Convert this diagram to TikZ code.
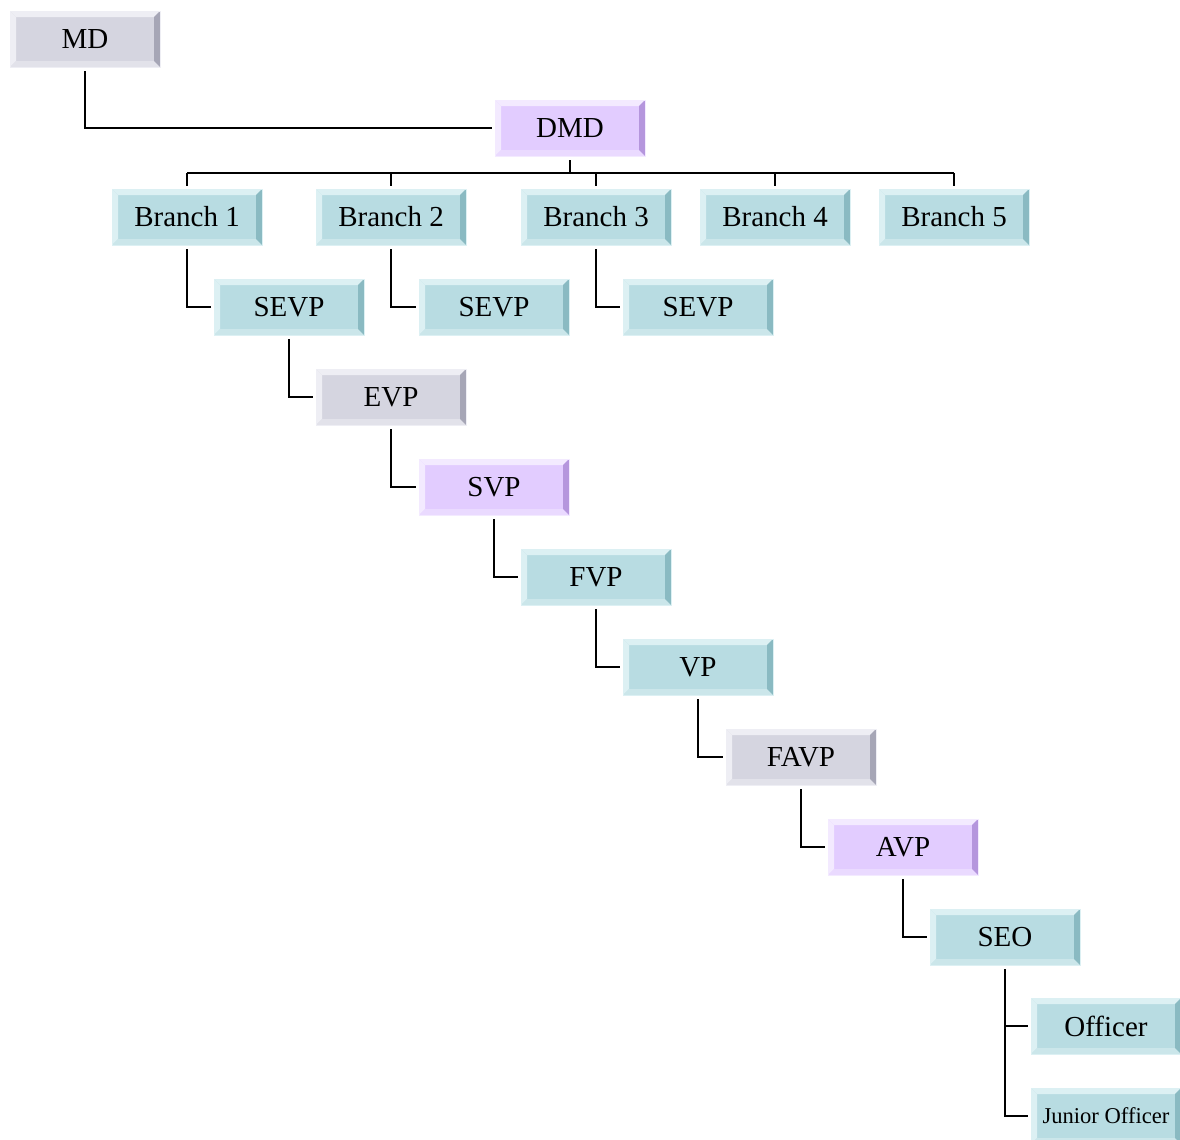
\documentclass[tikz,border=0pt]{standalone}
\usepackage{fontspec}
\setmainfont{Liberation Serif}
\usetikzlibrary{calc}

\definecolor{greyface}{HTML}{D5D5E0}
\definecolor{greylight}{HTML}{EEEEF4}
\definecolor{greylow}{HTML}{E2E2EA}
\definecolor{greydark}{HTML}{A6A6B6}
\definecolor{tealface}{HTML}{B8DCE2}
\definecolor{teallight}{HTML}{DCF0F3}
\definecolor{teallow}{HTML}{CBE6EA}
\definecolor{tealdark}{HTML}{8ABAC2}
\definecolor{violetface}{HTML}{E2CCFF}
\definecolor{violetlight}{HTML}{F3EAFF}
\definecolor{violetlow}{HTML}{EADAFF}
\definecolor{violetdark}{HTML}{B596DD}

\tikzset{
  box/.style n args={4}{draw=#2, line width=0.4pt, fill=#1, text=black,
    minimum width=75pt, minimum height=28pt, inner sep=0pt,
    font=\fontsize{14.5}{17}\selectfont,
    path picture={
      \coordinate (nw) at (path picture bounding box.north west);
      \coordinate (ne) at (path picture bounding box.north east);
      \coordinate (sw) at (path picture bounding box.south west);
      \coordinate (se) at (path picture bounding box.south east);
      \fill[#2] (nw) -- (ne) -- ([shift={(-3pt,-3pt)}]ne) -- ([shift={(3pt,-3pt)}]nw) -- cycle;
      \fill[#2] (nw) -- (sw) -- ([shift={(3pt,3pt)}]sw) -- ([shift={(3pt,-3pt)}]nw) -- cycle;
      \fill[#3] (sw) -- (se) -- ([shift={(-3pt,3pt)}]se) -- ([shift={(3pt,3pt)}]sw) -- cycle;
      \fill[#4] (ne) -- (se) -- ([shift={(-3pt,3pt)}]se) -- ([shift={(-3pt,-3pt)}]ne) -- cycle;
    }},
  greybox/.style={box={greyface}{greylight}{greylow}{greydark}},
  tealbox/.style={box={tealface}{teallight}{teallow}{tealdark}},
  violetbox/.style={box={violetface}{violetlight}{violetlow}{violetdark}},
  link/.style={draw=black, line width=1.2pt, shorten <=2pt, shorten >=1.5pt}
}

\begin{document}
\begin{tikzpicture}[x=0.5pt,y=-0.5pt]
\useasboundingbox (0,0) rectangle (1180,1140);
\clip (0,0) rectangle (1180,1140);

\node[greybox] (MD) at (85,39) {MD};
\node[violetbox] (DMD) at (570,128) {DMD};

\node[tealbox] (B1) at (187,217) {Branch 1};
\node[tealbox] (B2) at (391,217) {Branch 2};
\node[tealbox] (B3) at (596,217) {Branch 3};
\node[tealbox] (B4) at (775,217) {Branch 4};
\node[tealbox] (B5) at (954,217) {Branch 5};

\node[tealbox] (SEVP1) at (289,307) {SEVP};
\node[tealbox] (SEVP2) at (494,307) {SEVP};
\node[tealbox] (SEVP3) at (698,307) {SEVP};

\node[greybox] (EVP) at (391,397) {EVP};
\node[violetbox] (SVP) at (494,487) {SVP};
\node[tealbox] (FVP) at (596,577) {FVP};
\node[tealbox] (VP) at (698,667) {VP};
\node[greybox] (FAVP) at (801,757) {FAVP};
\node[violetbox] (AVP) at (903,847) {AVP};
\node[tealbox] (SEO) at (1005,937) {SEO};
\node[tealbox] (OFF) at (1106,1026) {Officer};
\node[tealbox, font=\fontsize{11.3}{13}\selectfont] (JO) at (1106,1116) {Junior Officer};

\coordinate (busL) at (187,173);
\coordinate (busR) at (954,173);

% top of the tree
\draw[link] (MD.south) |- (DMD.west);
\draw[line width=1.2pt] (DMD.south) ++(0,-2pt) -- (DMD.south |- busL);
\draw[line width=1.2pt] (busL) -- (busR);
\foreach \b in {B1,B2,B3,B4,B5}
  \draw[line width=1.2pt, shorten >=1.5pt] (\b.north |- busL) -- (\b.north);

% branches
\draw[link] (B1.south) |- (SEVP1.west);
\draw[link] (B2.south) |- (SEVP2.west);
\draw[link] (B3.south) |- (SEVP3.west);

% the chain
\draw[link] (SEVP1.south) |- (EVP.west);
\draw[link] (EVP.south) |- (SVP.west);
\draw[link] (SVP.south) |- (FVP.west);
\draw[link] (FVP.south) |- (VP.west);
\draw[link] (VP.south) |- (FAVP.west);
\draw[link] (FAVP.south) |- (AVP.west);
\draw[link] (AVP.south) |- (SEO.west);
\draw[link] (SEO.south) |- (OFF.west);
\draw[link] (SEO.south) |- (JO.west);
\end{tikzpicture}
\end{document}
